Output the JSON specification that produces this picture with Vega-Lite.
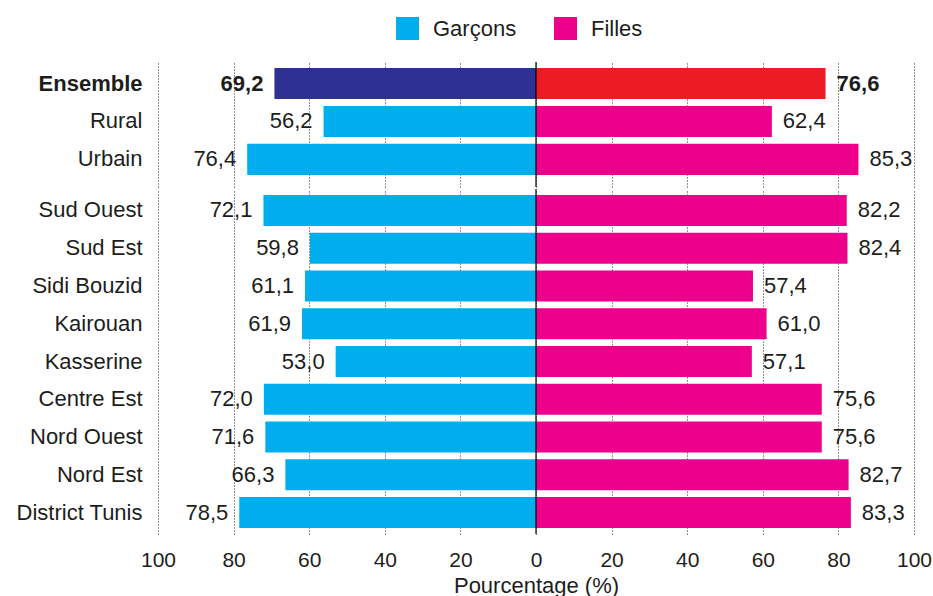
{
  "$schema": "https://vega.github.io/schema/vega-lite/v6.json",
  "padding": {"left": 8, "top": 17, "right": 5, "bottom": 5},
  "config": {
    "font": "Liberation Sans",
    "locale": {"number": {"decimal": ",", "thousands": " ", "grouping": [3], "currency": ["", " €"]}},
    "view": {"stroke": null},
    "concat": {"spacing": 0},
    "text": {"font": "Liberation Sans", "fontSize": 22, "color": "#1d1d1b", "baseline": "middle"}
  },
  "datasets": {
    "milieu": [
      {"zone": "Ensemble", "sexe": "Garçons", "taux": 69.2},
      {"zone": "Ensemble", "sexe": "Filles", "taux": 76.6},
      {"zone": "Rural", "sexe": "Garçons", "taux": 56.2},
      {"zone": "Rural", "sexe": "Filles", "taux": 62.4},
      {"zone": "Urbain", "sexe": "Garçons", "taux": 76.4},
      {"zone": "Urbain", "sexe": "Filles", "taux": 85.3}
    ],
    "regions": [
      {"zone": "Sud Ouest", "sexe": "Garçons", "taux": 72.1},
      {"zone": "Sud Ouest", "sexe": "Filles", "taux": 82.2},
      {"zone": "Sud Est", "sexe": "Garçons", "taux": 59.8},
      {"zone": "Sud Est", "sexe": "Filles", "taux": 82.4},
      {"zone": "Sidi Bouzid", "sexe": "Garçons", "taux": 61.1},
      {"zone": "Sidi Bouzid", "sexe": "Filles", "taux": 57.4},
      {"zone": "Kairouan", "sexe": "Garçons", "taux": 61.9},
      {"zone": "Kairouan", "sexe": "Filles", "taux": 61.0},
      {"zone": "Kasserine", "sexe": "Garçons", "taux": 53.0},
      {"zone": "Kasserine", "sexe": "Filles", "taux": 57.1},
      {"zone": "Centre Est", "sexe": "Garçons", "taux": 72.0},
      {"zone": "Centre Est", "sexe": "Filles", "taux": 75.6},
      {"zone": "Nord Ouest", "sexe": "Garçons", "taux": 71.6},
      {"zone": "Nord Ouest", "sexe": "Filles", "taux": 75.6},
      {"zone": "Nord Est", "sexe": "Garçons", "taux": 66.3},
      {"zone": "Nord Est", "sexe": "Filles", "taux": 82.7},
      {"zone": "District Tunis", "sexe": "Garçons", "taux": 78.5},
      {"zone": "District Tunis", "sexe": "Filles", "taux": 83.3}
    ]
  },
  "vconcat": [
    {
      "width": 756,
      "height": 125,
      "data": {"name": "milieu"},
      "transform": [
        {"calculate": "datum.sexe === 'Garçons' ? -datum.taux : datum.taux", "as": "position"}
      ],
      "layer": [
        {
          "mark": {"type": "bar"},
          "encoding": {
            "y": {
              "field": "zone", "type": "nominal", "sort": null, "title": null,
              "scale": {"paddingInner": 0.18, "paddingOuter": 0.238, "align": 0.333},
              "axis": {
                "ticks": false, "domain": false, "labelFontSize": 22, "labelPadding": 16,
                "labelColor": "#1d1d1b", "labelLimit": 300, "minExtent": 150, "maxExtent": 150,
                "labelFontWeight": {"condition": {"test": "datum.value === 'Ensemble'", "value": "bold"}, "value": "normal"}
              }
            },
            "x": {
              "field": "position", "type": "quantitative",
              "scale": {"domain": [-100, 100], "nice": false},
              "axis": {
                "values": [-100, -80, -60, -40, -20, 0, 20, 40, 60, 80, 100],
                "labels": false, "ticks": false, "domain": false, "title": null,
                "grid": true, "gridDash": [1, 2], "gridColor": "#222", "gridWidth": 1,
                "minExtent": 0, "maxExtent": 0
              }
            },
            "color": {
              "condition": [
                {"test": "datum.zone === 'Ensemble' && datum.sexe === 'Garçons'", "value": "#2E3192"},
                {"test": "datum.zone === 'Ensemble' && datum.sexe === 'Filles'", "value": "#ED1C24"}
              ],
              "field": "sexe", "type": "nominal",
              "scale": {"domain": ["Garçons", "Filles"], "range": ["#00AEEF", "#EC008C"]},
              "legend": {
                "orient": "none", "legendX": 238, "legendY": -45, "direction": "horizontal",
                "title": null, "symbolType": "square", "symbolSize": 529, "symbolStrokeWidth": 0,
                "symbolOpacity": 1, "labelFontSize": 22, "labelOffset": 14, "columnPadding": 37,
                "labelColor": "#1d1d1b", "padding": 0
              }
            }
          }
        },
        {
          "transform": [{"filter": "datum.sexe === 'Garçons'"}],
          "mark": {"type": "text", "align": "right", "dx": -11,
                   "fontWeight": {"expr": "datum.zone === 'Ensemble' ? 'bold' : 'normal'"}},
          "encoding": {
            "y": {"field": "zone", "type": "nominal", "sort": null},
            "x": {"field": "position", "type": "quantitative"},
            "text": {"field": "taux", "type": "quantitative", "format": ".1f"}
          }
        },
        {
          "transform": [{"filter": "datum.sexe === 'Filles'"}],
          "mark": {"type": "text", "align": "left", "dx": 11,
                   "fontWeight": {"expr": "datum.zone === 'Ensemble' ? 'bold' : 'normal'"}},
          "encoding": {
            "y": {"field": "zone", "type": "nominal", "sort": null},
            "x": {"field": "position", "type": "quantitative"},
            "text": {"field": "taux", "type": "quantitative", "format": ".1f"}
          }
        },
        {
          "data": {"values": [{}]},
          "mark": {"type": "rule", "color": "#000", "strokeWidth": 1.2},
          "encoding": {"x": {"datum": 0}}
        }
      ]
    },
    {
      "width": 756,
      "height": 345,
      "data": {"name": "regions"},
      "transform": [
        {"calculate": "datum.sexe === 'Garçons' ? -datum.taux : datum.taux", "as": "position"}
      ],
      "layer": [
        {
          "mark": {"type": "bar"},
          "encoding": {
            "y": {
              "field": "zone", "type": "nominal", "sort": null, "title": null,
              "scale": {"paddingInner": 0.18, "paddingOuter": 0.159},
              "axis": {
                "ticks": false, "domain": false, "labelFontSize": 22, "labelPadding": 16,
                "labelColor": "#1d1d1b", "labelLimit": 300, "minExtent": 150, "maxExtent": 150
              }
            },
            "x": {
              "field": "position", "type": "quantitative",
              "scale": {"domain": [-100, 100], "nice": false},
              "axis": {
                "values": [-100, -80, -60, -40, -20, 0, 20, 40, 60, 80, 100],
                "labelExpr": "abs(datum.value)", "labelFlush": false, "labelOverlap": false,
                "ticks": false, "domain": false,
                "grid": true, "gridDash": [1, 2], "gridColor": "#222", "gridWidth": 1,
                "labelFontSize": 21, "labelPadding": 15, "labelColor": "#1d1d1b",
                "title": "Pourcentage (%)", "titleFontSize": 22, "titleFontWeight": "normal",
                "titleColor": "#1d1d1b", "titlePadding": 5
              }
            },
            "color": {
              "field": "sexe", "type": "nominal",
              "scale": {"domain": ["Garçons", "Filles"], "range": ["#00AEEF", "#EC008C"]},
              "legend": {
                "orient": "none", "legendX": 238, "legendY": -45, "direction": "horizontal",
                "title": null, "symbolType": "square", "symbolSize": 529, "symbolStrokeWidth": 0,
                "symbolOpacity": 1, "labelFontSize": 22, "labelOffset": 14, "columnPadding": 37,
                "labelColor": "#1d1d1b", "padding": 0
              }
            }
          }
        },
        {
          "transform": [{"filter": "datum.sexe === 'Garçons'"}],
          "mark": {"type": "text", "align": "right", "dx": -11},
          "encoding": {
            "y": {"field": "zone", "type": "nominal", "sort": null},
            "x": {"field": "position", "type": "quantitative"},
            "text": {"field": "taux", "type": "quantitative", "format": ".1f"}
          }
        },
        {
          "transform": [{"filter": "datum.sexe === 'Filles'"}],
          "mark": {"type": "text", "align": "left", "dx": 11},
          "encoding": {
            "y": {"field": "zone", "type": "nominal", "sort": null},
            "x": {"field": "position", "type": "quantitative"},
            "text": {"field": "taux", "type": "quantitative", "format": ".1f"}
          }
        },
        {
          "data": {"values": [{}]},
          "mark": {"type": "rule", "color": "#000", "strokeWidth": 1.2},
          "encoding": {"x": {"datum": 0}}
        }
      ]
    }
  ],
  "resolve": {"scale": {"y": "independent", "x": "shared", "color": "shared"}}
}
